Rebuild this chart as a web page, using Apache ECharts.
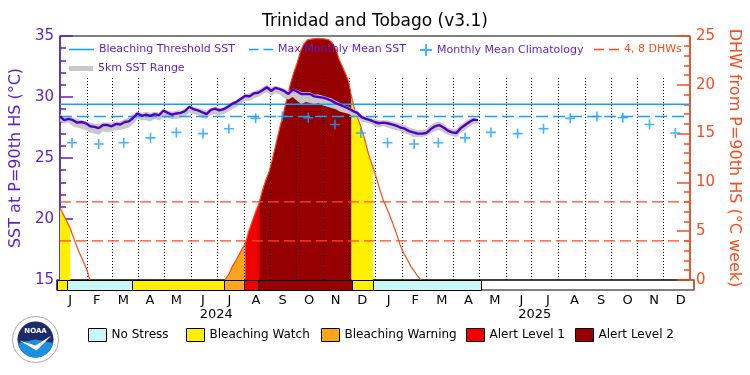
<!DOCTYPE html>
<html>
<head>
<meta charset="utf-8">
<title>Trinidad and Tobago (v3.1)</title>
<script src="https://cdn.jsdelivr.net/npm/echarts@6/dist/echarts.min.js"></script>
<style>
  html, body { margin: 0; padding: 0; background: #fff; }
  #chart { width: 750px; height: 375px; }
</style>
</head>
<body>
<div id="chart"></div>
<script>
var FONT = 'DejaVu Sans';
var PURPLE = '#5a1ecc', LINE_PURPLE = '#4f00c4', BLUE = '#14a0ff', ORANGE = '#ff4a1a', GRAY = '#c8c8c8';

// SST at P=90th HS, one reading every 5 days from 2024-01-01
var sstStart = '2024-01-01';
var sstStepDays = 5;
var sstValues = [28.4, 28.1, 28.2, 28.1, 27.9, 27.95, 27.85, 27.6, 27.55, 27.45,
  27.7, 27.7, 27.6, 27.8, 27.75, 27.95, 28.0, 28.3, 28.65, 28.45,
  28.55, 28.45, 28.6, 28.5, 28.9, 28.7, 28.55, 28.65, 28.7, 28.85,
  29.2, 29.0, 28.9, 28.75, 28.6, 28.95, 29.05, 28.9, 29.0, 29.2,
  29.45, 29.6, 29.85, 30.1, 30.05, 30.3, 30.35, 30.55, 30.8, 30.5,
  30.75, 30.65, 30.5, 30.25, 30.6, 30.45, 30.25, 30.25, 30.25, 30.05,
  30.0, 29.95, 29.85, 29.7, 29.5, 29.35, 29.2, 29.05, 28.85, 28.7,
  28.35, 28.2, 28.1, 27.95, 27.85, 27.9, 27.85, 27.75, 27.65, 27.5,
  27.4, 27.2, 27.1, 27.0, 27.0, 27.05, 27.35, 27.6, 27.7, 27.5,
  27.25, 27.1, 27.05, 27.45, 27.7, 27.95, 28.15, 28.1];
// 5km SST range (low / high) at the same dates
var rangeLow = [28.0, 27.8, 27.9, 27.6, 27.5, 27.4, 27.3, 27.1, 27.0, 26.9,
  27.2, 27.1, 27.2, 27.3, 27.3, 27.4, 27.5, 27.8, 28.2, 28.1,
  28.1, 28.0, 28.2, 28.1, 28.3, 28.3, 28.2, 28.2, 28.3, 28.4,
  28.7, 28.6, 28.5, 28.3, 28.2, 28.5, 28.6, 28.5, 28.6, 28.8,
  29.0, 29.2, 29.4, 29.7, 29.7, 29.9, 30.0, 30.2, 30.4, 30.1,
  30.3, 30.2, 29.9, 29.8, 30.0, 29.7, 29.4, 29.6, 29.5, 29.4,
  29.5, 29.3, 29.2, 29.1, 29.0, 28.8, 28.7, 28.6, 28.4, 28.3,
  28.0, 27.9, 27.8, 27.6, 27.5, 27.6, 27.5, 27.4, 27.3, 27.2,
  27.0, 26.9, 26.7, 26.7, 26.7, 26.8, 27.0, 27.2, 27.3, 27.1,
  26.9, 26.8, 26.7, 27.1, 27.3, 27.6, 27.8, 27.8];
var rangeHigh = [28.6, 28.3, 28.4, 28.3, 28.2, 28.1, 28.0, 27.9, 27.8, 27.8,
  27.9, 27.9, 27.9, 28.0, 28.0, 28.2, 28.3, 28.6, 28.8, 28.7,
  28.8, 28.7, 28.8, 28.7, 29.0, 28.9, 28.8, 28.9, 28.9, 29.0,
  29.3, 29.2, 29.1, 29.0, 28.9, 29.1, 29.2, 29.1, 29.2, 29.4,
  29.6, 29.8, 30.0, 30.2, 30.3, 30.5, 30.6, 30.8, 31.0, 30.8,
  30.9, 30.8, 30.7, 30.5, 30.7, 30.6, 30.4, 30.4, 30.4, 30.2,
  30.2, 30.1, 30.0, 29.9, 29.7, 29.5, 29.3, 29.2, 29.0, 28.9,
  28.5, 28.4, 28.3, 28.2, 28.1, 28.1, 28.1, 28.0, 27.9, 27.8,
  27.7, 27.5, 27.4, 27.3, 27.3, 27.4, 27.7, 27.9, 28.0, 27.8,
  27.5, 27.4, 27.4, 27.7, 28.0, 28.2, 28.3, 28.2];

var mmmSST = 28.4;
var thresholdSST = 29.4;
// monthly mean climatology, Jan..Dec
var climValues = [26.25, 26.15, 26.25, 26.65, 27.1, 27.0, 27.4, 28.25, 28.4, 28.3, 27.75, 27.05];

// degree heating weeks
var dhwDates = ['2024-01-01', '2024-01-05', '2024-01-09', '2024-01-13', '2024-01-16', '2024-01-19',
  '2024-01-23', '2024-01-27', '2024-01-31', '2024-02-02', '2024-02-04', '2024-02-05',
  '2024-07-10', '2024-07-11', '2024-07-15', '2024-07-19', '2024-07-23', '2024-07-27', '2024-07-31',
  '2024-08-03', '2024-08-07', '2024-08-11', '2024-08-15', '2024-08-19', '2024-08-23', '2024-08-27',
  '2024-08-31', '2024-09-04', '2024-09-08', '2024-09-12', '2024-09-16', '2024-09-20', '2024-09-24',
  '2024-09-28', '2024-10-02', '2024-10-06', '2024-10-10', '2024-10-14', '2024-10-20', '2024-10-27',
  '2024-11-03', '2024-11-08', '2024-11-12', '2024-11-16', '2024-11-20', '2024-11-24', '2024-11-28',
  '2024-12-01', '2024-12-04', '2024-12-08', '2024-12-14', '2024-12-19', '2024-12-24', '2024-12-29',
  '2025-01-02', '2025-01-06', '2025-01-10', '2025-01-14', '2025-01-18', '2025-01-22', '2025-01-26',
  '2025-01-30', '2025-02-03', '2025-02-07', '2025-02-11', '2025-02-15', '2025-02-19', '2025-02-23'];
var dhwValues = [7.4, 6.7, 6.0, 5.3, 4.5, 3.8,
  2.9, 2.1, 1.3, 0.85, 0.2, 0,
  0, 0.1, 0.6, 1.4, 2.0, 2.6, 3.3,
  3.7, 5.0, 6.0, 7.0, 7.9, 9.2, 10.3,
  11.2, 12.6, 14.1, 15.6, 17.0, 18.5, 20.0,
  21.2, 22.2, 23.4, 24.2, 24.6, 24.7, 24.75,
  24.7, 24.6, 24.3, 23.7, 22.6, 21.8, 21.0,
  20.3, 18.9, 17.4, 16.0, 14.6, 12.9, 11.6,
  10.5, 9.3, 8.2, 7.4, 6.5, 5.6, 4.6,
  3.5, 2.7, 2.1, 1.4, 0.9, 0.4, 0];
var dhwGuides = [4, 8];

// bleaching alert levels
var stressNames = ['No Stress', 'Bleaching Watch', 'Bleaching Warning', 'Alert Level 1', 'Alert Level 2'];
var stressColors = ['#c8f8f8', '#fff000', '#faa51a', '#f00000', '#960000'];
var stressStart = ['2024-01-01', '2024-01-13', '2024-03-27', '2024-07-11', '2024-08-03', '2024-08-19', '2024-12-04', '2024-12-29'];
var stressEnd   = ['2024-01-13', '2024-03-27', '2024-07-11', '2024-08-03', '2024-08-19', '2024-12-04', '2024-12-29', '2025-05-01'];
var stressLevel = [1, 0, 1, 2, 3, 4, 1, 0];

var monthLetters = ['J', 'F', 'M', 'A', 'M', 'J', 'J', 'A', 'S', 'O', 'N', 'D'];
var yearLabels = ['2024', '2025'];

function day(s) {
  var p = s.split('-');
  return new Date(+p[0], +p[1] - 1, +p[2]).getTime();
}
var DAY = 86400000;
var tMin = day('2024-01-01'), tMax = day('2026-01-01');

var sstTimes = sstValues.map(function (v, i) { return day(sstStart) + i * sstStepDays * DAY; });
var dhwTimes = dhwDates.map(day);

var monthCats = [], monthStarts = [], climData = [];
yearLabels.forEach(function (y) {
  for (var m = 0; m < 12; m++) {
    monthCats.push(y + '-' + (m + 1));
    var t = new Date(+y, m, 1).getTime();
    if (t > tMin) monthStarts.push([t, 0]);
    climData.push([new Date(+y, m, 15).getTime(), climValues[m]]);
  }
});

// DHW line: leave the flat zero stretch out so it does not sit on the bar
var dhwLine = [];
dhwTimes.forEach(function (t, i) {
  if (i > 0 && dhwValues[i] === 0 && dhwValues[i - 1] === 0) dhwLine.push([t, '-']);
  else dhwLine.push([t, dhwValues[i]]);
});

function dhwAt(t) {
  for (var i = 1; i < dhwTimes.length; i++) {
    if (t <= dhwTimes[i]) {
      var t0 = dhwTimes[i - 1], t1 = dhwTimes[i];
      if (t <= t0) return dhwValues[i - 1];
      return dhwValues[i - 1] + (dhwValues[i] - dhwValues[i - 1]) * (t - t0) / (t1 - t0);
    }
  }
  return 0;
}

function fillItem(params, api) {
  var t0 = api.value(0), t1 = api.value(1);
  var pts = [api.coord([t0, 0]), api.coord([t0, dhwAt(t0)])];
  for (var i = 0; i < dhwTimes.length; i++) {
    if (dhwTimes[i] > t0 && dhwTimes[i] < t1) pts.push(api.coord([dhwTimes[i], dhwValues[i]]));
  }
  pts.push(api.coord([t1, dhwAt(t1)]));
  pts.push(api.coord([t1, 0]));
  return { type: 'polygon', shape: { points: pts }, style: { fill: api.visual('color') } };
}

function barItem(params, api) {
  var a = api.coord([api.value(0), 0]);
  var b = api.coord([api.value(1), 0]);
  var cs = params.coordSys;
  var x0 = Math.round(a[0]) + 0.5, x1 = Math.round(b[0]) + 0.5;
  return {
    type: 'rect',
    shape: { x: x0, y: cs.y + 0.5, width: x1 - x0, height: cs.height },
    style: { fill: api.visual('color'), stroke: '#000', lineWidth: 1 }
  };
}

var dottedTop = 31.6;
function monthLineItem(params, api) {
  var a = api.coord([api.value(0), 15]);
  var b = api.coord([api.value(0), dottedTop]);
  var x = Math.round(a[0]) + 0.5;
  return {
    type: 'line',
    shape: { x1: x, y1: a[1], x2: x, y2: b[1] },
    style: { stroke: '#000', lineWidth: 1, lineDash: [1, 2] }
  };
}

function bandItem(params, api) {
  if (params.dataIndex !== 0) return null;
  var upper = [], lower = [];
  for (var i = 0; i < sstTimes.length; i++) {
    upper.push(api.coord([sstTimes[i], rangeHigh[i]]));
    lower.unshift(api.coord([sstTimes[i], rangeLow[i]]));
  }
  return { type: 'polygon', shape: { points: upper.concat(lower) }, style: { fill: api.visual('color') } };
}

var series = [];

// DHW area coloured by alert level
for (var lv = 1; lv < stressNames.length; lv++) {
  var segs = [];
  stressLevel.forEach(function (l, i) {
    if (l === lv) segs.push([day(stressStart[i]), day(stressEnd[i]), 0]);
  });
  series.push({
    type: 'custom', name: stressNames[lv], xAxisIndex: 0, yAxisIndex: 1, z: 1, silent: true,
    itemStyle: { color: stressColors[lv] }, renderItem: fillItem,
    encode: { x: [0, 1], y: 2 }, data: segs
  });
}

series.push({
  type: 'custom', name: 'months', xAxisIndex: 0, yAxisIndex: 0, z: 2, silent: true,
  renderItem: monthLineItem, encode: { x: 0, y: 1 }, data: monthStarts
});

series.push({
  type: 'line', name: 'DHW', xAxisIndex: 0, yAxisIndex: 1, z: 3, symbol: 'none', connectNulls: false,
  lineStyle: { color: ORANGE, width: 1.2 }, itemStyle: { color: ORANGE },
  data: dhwLine
});

dhwGuides.forEach(function (g) {
  series.push({
    type: 'line', name: '4, 8 DHWs', xAxisIndex: 0, yAxisIndex: 1, z: 3, symbol: 'none',
    lineStyle: { color: ORANGE, width: 1.3, type: [11, 5] }, itemStyle: { color: ORANGE },
    data: [[tMin, g], [tMax, g]]
  });
});

series.push({
  type: 'custom', name: '5km SST Range', xAxisIndex: 0, yAxisIndex: 0, z: 4, silent: true,
  itemStyle: { color: GRAY }, renderItem: bandItem, encode: { x: 0, y: [1, 2] },
  data: sstTimes.map(function (t, i) { return [t, rangeLow[i], rangeHigh[i]]; })
});

series.push({
  type: 'line', name: 'Max Monthly Mean SST', xAxisIndex: 0, yAxisIndex: 0, z: 5, symbol: 'none',
  lineStyle: { color: BLUE, width: 1.5, type: [12, 5] }, itemStyle: { color: BLUE },
  data: [[tMin, mmmSST], [tMax, mmmSST]]
});
series.push({
  type: 'line', name: 'Bleaching Threshold SST', xAxisIndex: 0, yAxisIndex: 0, z: 5, symbol: 'none',
  lineStyle: { color: BLUE, width: 1.5 }, itemStyle: { color: BLUE },
  data: [[tMin, thresholdSST], [tMax, thresholdSST]]
});

var PLUS = 'path://M4.2,0H5.8V10H4.2Z M0,4.2H10V5.8H0Z';
series.push({
  type: 'scatter', name: 'Monthly Mean Climatology', xAxisIndex: 0, yAxisIndex: 0, z: 5,
  symbol: PLUS, symbolSize: 10, itemStyle: { color: BLUE }, data: climData
});

series.push({
  type: 'line', name: 'SST', xAxisIndex: 0, yAxisIndex: 0, z: 6, symbol: 'none',
  lineStyle: { color: LINE_PURPLE, width: 2.4, opacity: 1 }, itemStyle: { color: LINE_PURPLE },
  emphasis: { disabled: true },
  data: sstTimes.map(function (t, i) { return [t, sstValues[i]]; })
});

// stress bar under the plot
stressNames.forEach(function (nm, lv) {
  var segs = [];
  stressLevel.forEach(function (l, i) {
    if (l === lv) segs.push([day(stressStart[i]), day(stressEnd[i]), 0]);
  });
  series.push({
    type: 'custom', name: nm, xAxisIndex: 1, yAxisIndex: 2, z: 7, silent: true,
    itemStyle: { color: stressColors[lv] }, renderItem: barItem,
    encode: { x: [0, 1], y: 2 }, data: segs
  });
});

function legendItem(left, top, name, icon, w, h, color, size, border) {
  return {
    show: true, selectedMode: false, padding: 0, left: left, top: top,
    itemWidth: w, itemHeight: h, itemGap: 0,
    itemStyle: border ? { borderColor: '#000', borderWidth: 1 } : { borderWidth: 0 },
    textStyle: { fontFamily: FONT, fontSize: size, color: color },
    data: [{ name: name, icon: icon }]
  };
}

var LINE_ICON = 'path://M0,0H25V1.6H0Z';
var DASH_ICON = 'path://M0,0H10V1.6H0Z M15,0H25V1.6H15Z';
var RANGE_ICON = 'path://M0,0H24V5H0Z';

var legends = [
  legendItem(69, 44, 'Bleaching Threshold SST', LINE_ICON, 25, 12, PURPLE, 11),
  legendItem(249, 44, 'Max Monthly Mean SST', DASH_ICON, 24, 12, PURPLE, 11),
  legendItem(420, 44, 'Monthly Mean Climatology', PLUS, 12, 12, PURPLE, 11),
  legendItem(594, 44, '4, 8 DHWs', DASH_ICON, 25, 12, ORANGE, 11),
  legendItem(69, 63, '5km SST Range', RANGE_ICON, 24, 12, PURPLE, 11)
];
var bottomLeft = [88, 186, 321, 466, 575];
stressNames.forEach(function (nm, i) {
  legends.push(legendItem(bottomLeft[i], 328, nm, 'rect', 18, 13, '#000', 12, true));
});

var option = {
  animation: false,
  backgroundColor: '#fff',
  title: {
    text: 'Trinidad and Tobago (v3.1)', left: 'center', top: 13, padding: [0, 0, 0, 8],
    textStyle: { fontFamily: FONT, fontSize: 17, fontWeight: 'normal', color: '#000' }
  },
  legend: legends,
  grid: [
    { left: 57, right: 56, top: 36, height: 244, show: true, borderColor: '#000', borderWidth: 1, backgroundColor: 'transparent' },
    { left: 57, right: 56, top: 280, height: 10, show: true, borderColor: '#000', borderWidth: 1, backgroundColor: 'transparent' }
  ],
  xAxis: [
    { type: 'time', gridIndex: 0, min: tMin, max: tMax, show: false },
    { type: 'time', gridIndex: 1, min: tMin, max: tMax, show: false },
    {
      type: 'category', gridIndex: 1, position: 'bottom', offset: 0, data: monthCats, boundaryGap: true,
      axisLine: { show: false }, axisTick: { show: false }, splitLine: { show: false },
      axisLabel: {
        interval: 0, margin: 4, fontFamily: FONT, fontSize: 13, color: '#000',
        formatter: function (v) { return monthLetters[+v.split('-')[1] - 1]; }
      }
    },
    {
      type: 'category', gridIndex: 1, position: 'bottom', offset: 14, data: yearLabels, boundaryGap: true,
      axisLine: { show: false }, axisTick: { show: false }, splitLine: { show: false },
      axisLabel: { interval: 0, margin: 4, fontFamily: FONT, fontSize: 13, color: '#000' }
    }
  ],
  yAxis: [
    {
      type: 'value', gridIndex: 0, position: 'left', min: 15, max: 35, interval: 5,
      axisLine: { show: true, lineStyle: { color: PURPLE, width: 1.5 } },
      axisTick: { show: true, inside: true, length: 13, lineStyle: { color: PURPLE, width: 1.5 } },
      minorTick: { show: true, splitNumber: 5, length: 6, lineStyle: { color: PURPLE, width: 1.5 } },
      splitLine: { show: false },
      axisLabel: { margin: 6, fontFamily: FONT, fontSize: 15, color: PURPLE },
      name: 'SST at P=90th HS (°C)', nameLocation: 'middle', nameRotate: 90, nameGap: 33,
      nameTextStyle: { fontFamily: FONT, fontSize: 16, color: PURPLE }
    },
    {
      type: 'value', gridIndex: 0, position: 'right', min: 0, max: 25, interval: 5,
      axisLine: { show: true, lineStyle: { color: ORANGE, width: 1.5 } },
      axisTick: { show: true, inside: true, length: 13, lineStyle: { color: ORANGE, width: 1.5 } },
      minorTick: { show: true, splitNumber: 5, length: 6, lineStyle: { color: ORANGE, width: 1.5 } },
      splitLine: { show: false },
      axisLabel: { margin: 6, fontFamily: FONT, fontSize: 15, color: ORANGE },
      name: 'DHW from P=90th HS (°C week)', nameLocation: 'middle', nameRotate: -90, nameGap: 33,
      nameTextStyle: { fontFamily: FONT, fontSize: 16, color: ORANGE }
    },
    {
      type: 'value', gridIndex: 1, position: 'left', min: 0, max: 1,
      axisLine: { show: true, lineStyle: { color: PURPLE, width: 1.5 } },
      axisTick: { show: false }, axisLabel: { show: false }, splitLine: { show: false }
    },
    {
      type: 'value', gridIndex: 1, position: 'right', min: 0, max: 1,
      axisLine: { show: true, lineStyle: { color: ORANGE, width: 1.5 } },
      axisTick: { show: false }, axisLabel: { show: false }, splitLine: { show: false }
    }
  ],
  graphic: [{
    type: 'group', left: 12, top: 316, silent: true,
    children: [
      { type: 'circle', shape: { cx: 23, cy: 23, r: 23 }, style: { fill: '#fff', stroke: '#aaa', lineWidth: 1 } },
      { type: 'circle', shape: { cx: 23, cy: 23, r: 18 }, style: { fill: '#1d2b6b' } },
      { type: 'sector', shape: { cx: 23, cy: 23, r: 18, r0: 0, startAngle: 0.2, endAngle: Math.PI - 0.2 }, style: { fill: '#1b8fe0' } },
      { type: 'polygon', shape: { points: [[7, 24], [23, 29], [39, 19], [24, 34]] }, style: { fill: '#fff' } },
      { type: 'text', style: { x: 23, y: 15, text: 'NOAA', fill: '#fff', font: 'bold 7px DejaVu Sans', align: 'center', verticalAlign: 'middle' } }
    ]
  }],
  series: series
};

var chart = echarts.init(document.getElementById('chart'));
chart.setOption(option);
</script>
</body>
</html>
